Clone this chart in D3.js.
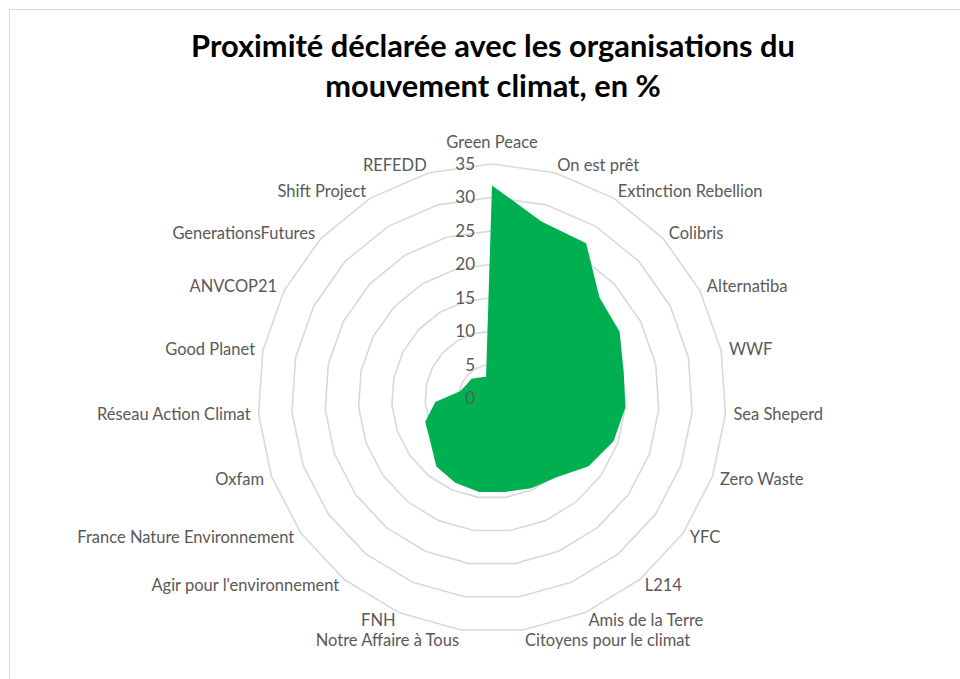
<!DOCTYPE html>
<html>
<head>
<meta charset="utf-8">
<script src="https://cdn.jsdelivr.net/npm/d3@7"></script>
<style>
  body { margin: 0; background: #fff; }
  #chart { width: 960px; height: 679px; }
  text { font-family: Lato, "Open Sans", sans-serif; }
</style>
</head>
<body>
<div id="chart"></div>
<script>
// categories, clockwise from the top
const categories = ["Green Peace", "On est prêt", "Extinction Rebellion", "Colibris", "Alternatiba",
    "WWF", "Sea Sheperd", "Zero Waste", "YFC", "L214", "Amis de la Terre", "Citoyens pour le climat",
    "Notre Affaire à Tous", "FNH", "Agir pour l'environnement", "France Nature Environnement", "Oxfam",
    "Réseau Action Climat", "Good Planet", "ANVCOP21", "GenerationsFutures", "Shift Project", "REFEDD"];

// % declaring proximity
const values = [31.8, 27.4, 27.1, 22.0, 21.5, 20.1, 20.0, 19.3, 17.7, 15.3, 14.7, 14.2,
    14.2, 13.8, 13.2, 11.3, 10.6, 8.5, 4.9, 4.3, 4.2, 3.6, 3.3];

const ticks = [0, 5, 10, 15, 20, 25, 30, 35];

const titleLines = ["Proximité déclarée avec les organisations du", "mouvement climat, en %"];

let width = 960, height = 679;
let cx = 492, cy = 398;
let outer = 234;

let svg = d3.select("#chart").append("svg")
    .attr("width", width)
    .attr("height", height);

// chart area border
svg.append("rect")
    .attr("x", 9.5).attr("y", 9.5)
    .attr("width", width + 10).attr("height", height + 10)
    .attr("fill", "none")
    .attr("stroke", "#d9d9d9")
    .attr("stroke-width", 1);

// title
svg.append("g").selectAll("text")
    .data(titleLines)
    .enter().append("text")
    .attr("x", 493)
    .attr("y", (d, i) => 57 + i * 40)
    .attr("text-anchor", "middle")
    .attr("font-size", 30.8)
    .attr("font-weight", "bold")
    .attr("fill", "#000")
    .text(d => d);

let g = svg.append("g").attr("transform", "translate(" + cx + "," + cy + ")");

let r = d3.scaleLinear().domain([0, 35]).range([0, outer]);
let step = 2 * Math.PI / categories.length;
let a = (d, i) => i * step;

// grid rings
let ring = d3.lineRadial()
    .angle((d, i) => a(d, i))
    .radius(d => r(d))
    .curve(d3.curveLinearClosed);

g.selectAll(".ring")
    .data(ticks.filter(t => t > 0))
    .enter().append("path")
    .attr("class", "ring")
    .attr("d", t => ring(categories.map(() => t)))
    .attr("fill", "none")
    .attr("stroke", "#d9d9d9")
    .attr("stroke-width", 1.6);

// data area
g.append("path")
    .attr("d", ring(values))
    .attr("fill", "#00b050")
    .attr("stroke", "none");

// value axis labels
g.selectAll(".tick")
    .data(ticks)
    .enter().append("text")
    .attr("class", "tick")
    .attr("x", -17)
    .attr("y", t => -r(t))
    .attr("dy", "0.35em")
    .attr("text-anchor", "end")
    .attr("font-size", 17)
    .attr("fill", "#595959")
    .text(t => t);

// category labels
let gap = 8;
g.selectAll(".cat")
    .data(categories)
    .enter().append("text")
    .attr("class", "cat")
    .attr("x", (d, i) => (outer + gap) * Math.sin(a(d, i)))
    .attr("y", (d, i) => {
        let s = Math.sin(a(d, i)), c = Math.cos(a(d, i));
        let y = -(outer + gap) * c;
        if (Math.abs(s) < 0.01) return y - 8;
        // the two labels straddling the bottom sit a bit lower
        if (c < -0.95) return y + 2;
        return y;
    })
    .attr("dy", (d, i) => Math.abs(Math.sin(a(d, i))) < 0.01 ? "0" : "0.35em")
    .attr("text-anchor", (d, i) => {
        let s = Math.sin(a(d, i));
        if (Math.abs(s) < 0.01) return "middle";
        return s > 0 ? "start" : "end";
    })
    .attr("font-size", 16.5)
    .attr("fill", "#595959")
    .text(d => d);
</script>
</body>
</html>
